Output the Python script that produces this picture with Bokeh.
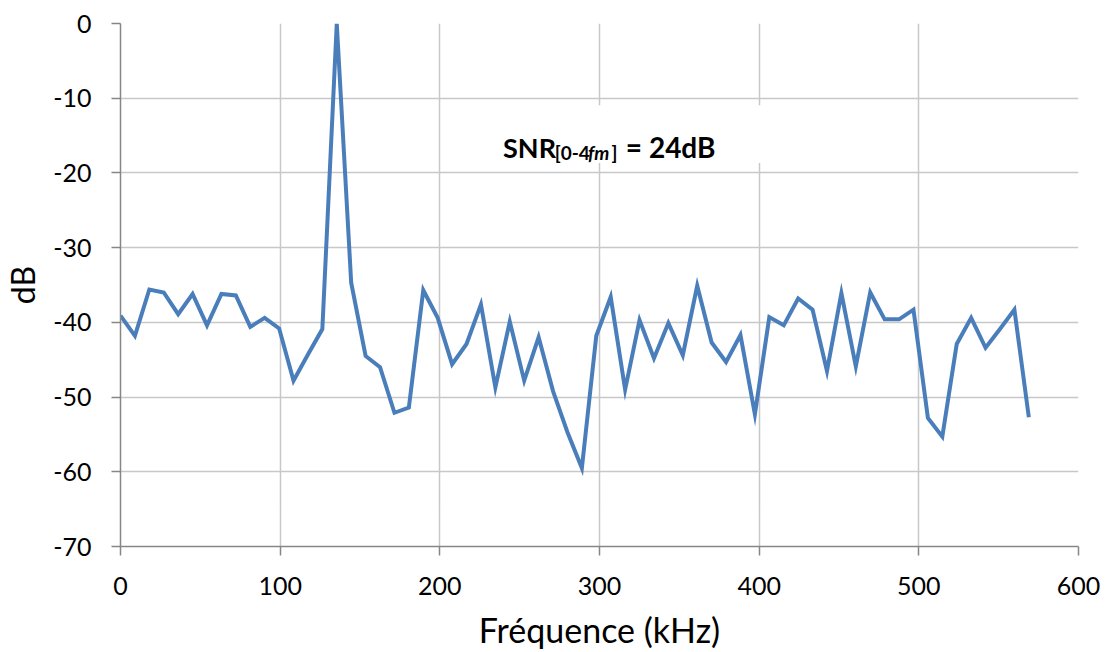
from bokeh.plotting import figure
from bokeh.models import Range1d, FixedTicker, Label, BoxAnnotation
from bokeh.embed import file_html
from bokeh.resources import INLINE

# Frequency bins (kHz)
freq_khz = [0, 9.03, 18.06, 27.09, 36.12, 45.15, 54.18, 63.21, 72.24, 81.27,
            90.3, 99.33, 108.36, 117.39, 126.42, 135.45, 144.48, 153.51, 162.54, 171.57,
            180.6, 189.63, 198.66, 207.69, 216.72, 225.75, 234.78, 243.81, 252.84, 261.87,
            270.9, 279.93, 288.96, 297.99, 307.02, 316.05, 325.08, 334.11, 343.14, 352.17,
            361.2, 370.23, 379.26, 388.29, 397.32, 406.35, 415.38, 424.41, 433.44, 442.47,
            451.5, 460.53, 469.56, 478.59, 487.62, 496.65, 505.68, 514.71, 523.74, 532.77,
            541.8, 550.83, 559.86, 568.89]

# Spectrum level (dB)
level_db = [-39.1, -41.8, -35.6, -36.0, -38.9, -36.2, -40.4, -36.2, -36.4, -40.6,
            -39.4, -40.8, -47.8, -44.3, -40.9, 0.0, -34.7, -44.5, -46.0, -52.1,
            -51.4, -35.7, -39.4, -45.6, -42.9, -37.6, -48.7, -39.9, -47.8, -42.0,
            -49.2, -54.7, -59.5, -41.8, -36.6, -49.0, -39.7, -44.8, -40.1, -44.4,
            -35.1, -42.7, -45.3, -41.7, -52.3, -39.3, -40.4, -36.8, -38.3, -46.5,
            -36.1, -45.9, -36.0, -39.6, -39.6, -38.3, -52.8, -55.3, -42.9, -39.4,
            -43.4, -40.9, -38.3, -52.7]

x_ticks = [0, 100, 200, 300, 400, 500, 600]
y_ticks = [0, -10, -20, -30, -40, -50, -60, -70]

FONT = "Lato"

p = figure(width=1106, height=652, output_backend="svg", toolbar_location=None,
           x_range=Range1d(0, 600), y_range=Range1d(-70, 0),
           min_border_left=119, min_border_right=28, min_border_top=23,
           min_border_bottom=104)
p.outline_line_color = None
p.background_fill_color = "white"
p.border_fill_color = "white"

p.xaxis.ticker = FixedTicker(ticks=x_ticks)
p.yaxis.ticker = FixedTicker(ticks=y_ticks)
p.xaxis.major_label_overrides = {t: str(t) for t in x_ticks}
p.yaxis.major_label_overrides = {t: str(t) for t in y_ticks}

for ax in (p.xaxis[0], p.yaxis[0]):
    ax.axis_line_color = "#868686"
    ax.axis_line_width = 1.5
    ax.major_tick_line_color = "#868686"
    ax.major_tick_line_width = 1.5
    ax.major_tick_out = 9
    ax.major_tick_in = 0
    ax.minor_tick_line_color = None
    ax.major_label_text_font = FONT
    ax.major_label_text_font_size = "25px"
    ax.major_label_text_color = "black"
    ax.axis_label_text_font = FONT
    ax.axis_label_text_font_style = "normal"
    ax.axis_label_text_color = "black"

p.xaxis.axis_label = "Fréquence (kHz)"
p.xaxis.axis_label_text_font_size = "34px"
p.xaxis.major_label_standoff = 21
p.xaxis.axis_label_standoff = 11
p.yaxis.axis_label = "dB"
p.yaxis.axis_label_text_font_size = "32px"
p.yaxis.major_label_standoff = 20
p.yaxis.axis_label_standoff = 8

p.xgrid.grid_line_color = "#c8c8c8"
p.xgrid.grid_line_width = 1.5
p.ygrid.grid_line_color = "#c8c8c8"
p.ygrid.grid_line_width = 1.5

p.line(freq_khz, level_db, line_color="#4a7ebb", line_width=4, line_join="miter")

# white background box behind annotation text
p.add_layout(BoxAnnotation(left=226, right=407, bottom=-18.67, top=-10.93,
                           fill_color="white", fill_alpha=1.0, line_color=None))

common = dict(text_font=FONT, text_color="black", text_font_style="bold",
              text_baseline="alphabetic", text_align="left")
p.add_layout(Label(x=239.6, y=-16.53, text="SNR", text_font_size="27px", **common))
p.add_layout(Label(x=272.0, y=-17.3, text="[0-4", text_font_size="19px", **common))
common_it = dict(common)
common_it["text_font_style"] = "bold italic"
p.add_layout(Label(x=292.8, y=-17.3, text="fm", text_font_size="19px", **common_it))
p.add_layout(Label(x=307.5, y=-17.3, text="]", text_font_size="19px", **common))
p.add_layout(Label(x=316.5, y=-16.53, text="= 24dB", text_font_size="28px", **common))

open("out.html", "w").write(file_html(p, INLINE))
